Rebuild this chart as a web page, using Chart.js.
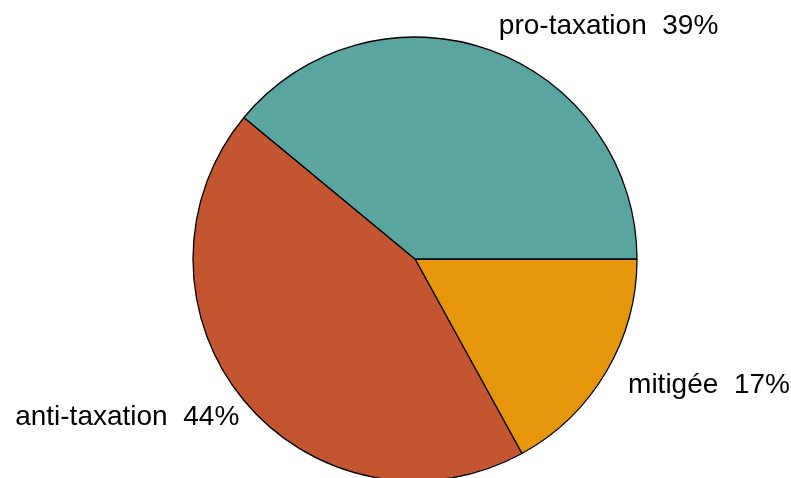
<!DOCTYPE html>
<html>
<head>
<meta charset="utf-8">
<title>Opinions sur la taxation</title>
<script src="https://cdn.jsdelivr.net/npm/chart.js@4.4.1/dist/chart.umd.min.js"></script>
<style>
html,body{margin:0;padding:0;background:#fff;overflow:hidden;}
#wrap{position:relative;width:791px;height:518px;}
</style>
</head>
<body>
<div id="wrap"><canvas id="pie"></canvas></div>
<script>

// slices, listed clockwise from 3 o'clock
const categories=["mitigée","anti-taxation","pro-taxation"];
const shares=[17,44,39];
const colours=["#E6960B","#C45531","#5BA5A0"];


/* =====================
   Outside labels
===================== */

const outsideLabels={

id:"outsideLabels",

afterDatasetsDraw(chart){

const c=chart.ctx;
const arcs=chart.getDatasetMeta(0).data;

c.save();
c.font="28px 'Liberation Sans', Arial, sans-serif";
c.fillStyle="#000";
c.textBaseline="middle";

arcs.forEach((arc,i)=>{

const p=arc.getProps(["x","y","startAngle","endAngle","outerRadius"],true);
const mid=(p.startAngle+p.endAngle)/2;
const r=p.outerRadius*1.115;

let x=p.x+Math.cos(mid)*r;
const y=p.y+Math.sin(mid)*r;

const left=Math.cos(mid)<0;
c.textAlign=left?"right":"left";
x+=left?15:0;

c.fillText(categories[i]+"  "+shares[i]+"%",x,y);

});

c.restore();

}

};


/* =====================
   Chart
===================== */

const ctx=document.getElementById("pie").getContext("2d");

new Chart(ctx,{

type:"pie",

data:{
labels:categories,
datasets:[{
data:shares,
backgroundColor:colours,
borderColor:"#000",
borderWidth:1.3
}]
},

options:{
responsive:true,
maintainAspectRatio:false,
animation:false,
rotation:90,
radius:222,
layout:{padding:{left:39}},
plugins:{
legend:{display:false},
tooltip:{enabled:false}
}
},

plugins:[outsideLabels]

});

</script>
</body>
</html>
